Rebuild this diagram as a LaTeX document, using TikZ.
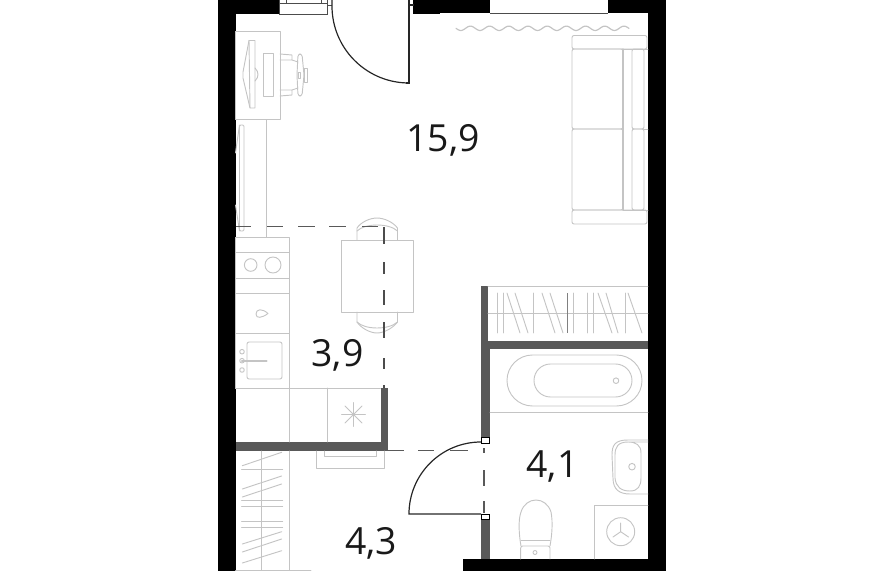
\documentclass[tikz,border=0pt]{standalone}
\usepackage{fontspec}
\setmainfont{Open Sans}
\definecolor{wallg}{HTML}{595959}
\definecolor{furc}{HTML}{C4C4C4}
\tikzset{
  fur/.style={draw=furc,line width=0.7pt,line cap=round,line join=round},
  wall/.style={fill=black,draw=none},
  inner/.style={fill=wallg,draw=none},
  doorl/.style={draw=black!85,line width=0.9pt},
  zone/.style={draw=black!65,line width=0.8pt},
  area/.style={font=\fontsize{28}{30}\selectfont,text=black!90,inner sep=0pt}
}
\begin{document}
\begin{tikzpicture}[x=0.75pt,y=-0.75pt]
\useasboundingbox (0,0) rectangle (883,571);
% outer walls
\fill[wall] (217.5,0) rectangle (235.5,571);
\fill[wall] (217.5,0) rectangle (279,14);
\fill[wall] (413,0) rectangle (440,14);
\fill[wall] (440,0) rectangle (490,13);
\fill[wall] (608,0) rectangle (665.5,13);
\fill[wall] (648,0) rectangle (665.5,571);
\fill[wall] (463,559) rectangle (665.5,571);
% inner walls
\fill[inner] (235.5,442) rectangle (387.5,451);
\fill[inner] (380.5,388) rectangle (387.5,451);
\fill[inner] (481,286) rectangle (488,341);
\fill[inner] (481,341) rectangle (648,349);
\fill[inner] (481,349) rectangle (490,437);
\fill[inner] (481,519) rectangle (490,559);
\draw[line width=.5pt,black] (481.5,437) rectangle (489,443) (481.5,514) rectangle (489,519);
% window / door frames
\draw[black!70,line width=.7pt] (279,0) -- (279,14) -- (327.5,14) -- (327.5,0);
\draw[black!70,line width=.7pt] (279,3) -- (327.5,3) (286,0) -- (286,3) (321,0) -- (321,3);
\draw[black!70,line width=.7pt] (327.5,5) -- (332,5);
\draw[black!70,line width=.7pt] (490,13) -- (608,13);
% entry door
\draw[doorl] (332,0) -- (332,6) arc[start angle=180,end angle=92,radius=77];
\draw[doorl] (409,0) -- (409,83) -- (406,83);
\draw[doorl] (409,5) -- (414,5);
% curtain
\draw[fur,line width=.9pt,smooth] plot[domain=456:629,samples=120] (\x,{28.3+2.2*sin((\x-456)*18.75)});
% sofa
\draw[fur,rounded corners=1.5pt] (572,35.5) rectangle (647,49);
\draw[fur,rounded corners=1.5pt] (572,210) rectangle (647,224);
\draw[fur,rounded corners=1.5pt] (572,49) rectangle (623,129);
\draw[fur,rounded corners=1.5pt] (572,129) rectangle (623,210);
\draw[fur,rounded corners=1.5pt] (632,49) rectangle (644,129);
\draw[fur,rounded corners=1.5pt] (632,129) rectangle (644,210);
\draw[fur,line width=1pt] (623,49) -- (623,210);
\draw[fur] (623,49) -- (648,49) (623,210) -- (648,210) (644,129) -- (648,129);
% desk
\draw[fur] (235.5,31) rectangle (280,119);
\draw[fur] (249,40.5) -- (255,40.5) -- (255,108) -- (250,108) -- cycle;
\draw[fur] (249,40.5) -- (243,72) -- (243,78) -- (250,108);
\draw[fur] (255,68) .. controls (259,72) and (259,77) .. (255,81);
\draw[fur] (263,53.5) rectangle (273,96);
% chair
\draw[fur] (280,54) -- (292,55) -- (292,60) -- (280,60);
\draw[fur] (280,90) -- (292,90) -- (292,95) -- (280,96);
\draw[fur] (292,60) -- (298,62) (292,90) -- (298,88);
\draw[fur,rounded corners=2pt] (298,54) -- (302,54) -- (304,75) -- (302,96) -- (298,96) -- (297,75) -- cycle;
\draw[fur] (304,68) rectangle (307,82);
\draw[fur] (298,72) rectangle (300,78);
% cabinet on left wall
\draw[fur] (235.5,119) -- (266,119) -- (266,237);
\draw[fur,rounded corners=1pt] (239.5,125) rectangle (244,231);
\draw[fur] (239.5,125) -- (235.5,153) (239.5,231) -- (235.5,205);
% kitchen
\draw[fur] (235.5,237) rectangle (289.5,388);
\draw[fur] (235.5,252) -- (289.5,252);
\draw[fur] (235.5,278) -- (289.5,278);
\draw[fur] (235.5,293) -- (289.5,293);
\draw[fur] (235.5,333) -- (289.5,333);
\draw[fur] (250.7,265) circle (6.3);
\draw[fur] (273,265) circle (8);
\draw[fur] (256,314) .. controls (256,309) and (262,308) .. (268,313.5) .. controls (262,318) and (256,319) .. (256,314) -- cycle;
\draw[fur,rounded corners=1.5pt] (247,342) rectangle (282,379);
\draw[fur] (242,351.7) circle (2.3) (242,360.7) circle (2.3) (242,370) circle (2.3);
\draw[fur,line width=1.6pt] (242,360.7) -- (266.5,360.7);
% lower counter
\draw[fur] (235.5,388) -- (380.5,388);
\draw[fur] (289.5,388) -- (289.5,442);
\draw[fur] (327.3,388) -- (327.3,442);
\draw[fur] (353.5,402.5) -- (353.5,426.5) (341.5,414.5) -- (365.5,414.5) (345,406) -- (362,423) (345,423) -- (362,406);
% table and chairs
\draw[fur] (341.5,240) rectangle (413,312);
\draw[fur] (357,240) -- (357,228) .. controls (361,222) and (370,218) .. (377,218) .. controls (384,218) and (393,222) .. (397.5,228) -- (397.5,240);
\draw[fur] (357,231) .. controls (365,223) and (389,223) .. (397.5,231);
\draw[fur] (357,312) -- (357,322) .. controls (361,328) and (370,333) .. (377,333) .. controls (384,333) and (393,328) .. (397.5,322) -- (397.5,312);
\draw[fur] (357,322) .. controls (365,330) and (389,330) .. (397.5,322);
% zone dashes
\draw[zone] (235.5,226.7) -- (251,226.7) (267,226.7) -- (283,226.7) (298,226.7) -- (315,226.7) (329,226.7) -- (346,226.7) (362,226.7) -- (378,226.7);
\draw[draw=black!70,line width=.9pt] (384,227) -- (384,244) (384,262) -- (384,274) (384,290) -- (384,305) (384,322) -- (384,338) (384,358) -- (384,369) (384,385) -- (384,388);
\draw[zone] (387.5,450.7) -- (404,450.7) (418,450.7) -- (434,450.7) (450,450.7) -- (468,450.7);
\draw[zone] (484,448) -- (484,453) (484,470) -- (484,486) (484,501) -- (484,513);
% wardrobe right
\draw[fur] (488,286) -- (648,286);
\draw[fur] (488,313) -- (648,313);
\foreach \a in {497,503,533,573,587,593,625}{\draw[fur] (\a,293) -- (\a,333);}
\foreach \a/\b in {507/520,515/528,542/555,550/563,598/612,606/618,628/642}{\draw[fur] (\a,293) -- (\b,333);}
\draw[black!50,line width=.6pt] (567,293) -- (567,333);
% bath
\draw[fur] (532.5,355) -- (616.5,355) arc[start angle=-90,end angle=90,radius=25.5] -- (532.5,406) arc[start angle=90,end angle=270,radius=25.5] -- cycle;
\draw[fur] (550.5,364) -- (615.5,364) arc[start angle=-90,end angle=90,radius=16.5] -- (550.5,397) arc[start angle=90,end angle=270,radius=16.5] -- cycle;
\draw[fur] (616,380.7) circle (2.8);
\draw[fur] (490,412) -- (648,412);
% sink
\draw[fur] (648,440) -- (628,440) .. controls (615,440) and (612,445) .. (612,455) -- (613,478) .. controls (613,490) and (620,494) .. (630,494) -- (648,494);
\draw[fur] (648,442) -- (628,442) .. controls (618,442) and (615,447) .. (615,455) -- (615,478) .. controls (616,487) and (621,491) .. (630,491) .. controls (638,491) and (641,486) .. (641,478) -- (641,453) .. controls (641,445) and (636,442) .. (628,442);
\draw[fur] (632,466.7) circle (3.3);
% washer
\draw[fur] (594,559) -- (594,505) -- (648,505);
\draw[fur] (620.7,531.7) circle (14);
\draw[fur] (620.7,531.7) -- (620.7,523) (620.7,531.7) -- (613,537) (620.7,531.7) -- (628.5,537);
% toilet
\draw[fur] (521,546) .. controls (519,535) and (518,520) .. (521,512) .. controls (526,496) and (546,496) .. (551,512) .. controls (553,522) and (552,535) .. (550,546);
\draw[fur,rounded corners=1.5pt] (520.7,559) -- (520.7,546) -- (550,546) -- (550,559);
\draw[fur] (521,540.7) -- (550,540.7);
\draw[fur] (535,552.5) circle (2);
% hall shelves
\draw[fur] (261.7,451) -- (261.7,570.5);
\draw[fur] (289,451) -- (289,570.5);
\foreach \y in {469,500.7,506.7,521,527.7}{\draw[fur] (241.7,\y) -- (282.7,\y);}
\foreach \a/\b in {452.3/465.7,476/489,484/497,531.7/544,539/552,550.7/563}{\draw[fur] (242.3,\b) -- (281.7,\a);}
\draw[fur] (235.5,570.5) -- (311,570.5);
% hall mat
\draw[fur] (316.7,451) -- (316.7,468.3) -- (384.3,468.3) -- (384.3,451);
\draw[fur] (324.3,451) -- (324.3,456) -- (376.7,456) -- (376.7,451);
% inner door
\draw[doorl] (481,514) -- (409,514) arc[start angle=180,end angle=270,radius=72];
% labels
\node[area] (a1) at (443,140) {15,9};
\node[area] (a2) at (337.5,355) {3,9};
\node[area] (a3) at (371,543) {4,3};
\node[area] (a4) at (552.5,467) {4,1};
\end{tikzpicture}
\end{document}
